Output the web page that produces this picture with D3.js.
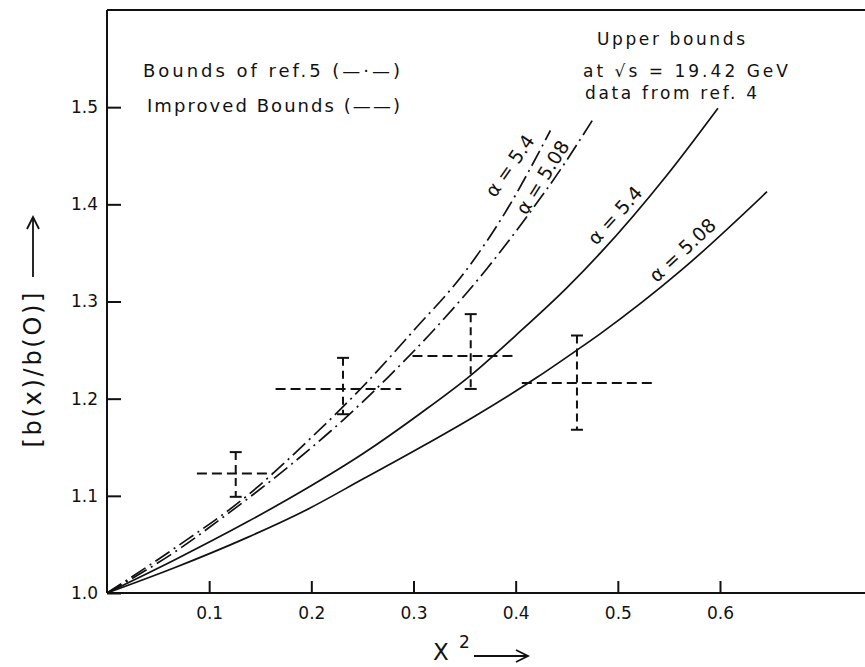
<!DOCTYPE html>
<html>
<head>
<meta charset="utf-8">
<script src="https://cdn.jsdelivr.net/npm/d3@7"></script>
<style>
  body { margin: 0; background: #fff; }
  text { font-family: "DejaVu Sans", sans-serif; fill: #111; }
</style>
</head>
<body>
<div id="container"></div>
<script>
const w = 865;
const h = 667;

// tick values
let xTicks = [0.1, 0.2, 0.3, 0.4, 0.5, 0.6];
let yTicks = [1.0, 1.1, 1.2, 1.3, 1.4, 1.5];

// bounds of ref.5 (dash-dot) as [x^2, b(x)/b(0)]
let refA54 = [[0, 1], [0.066, 1.046], [0.137, 1.100], [0.2, 1.160], [0.25, 1.212],
  [0.3, 1.270], [0.35, 1.330], [0.39, 1.392], [0.434, 1.476]];
let refA508 = [[0, 1], [0.066, 1.042], [0.12, 1.083], [0.18, 1.132], [0.23, 1.177],
  [0.275, 1.222], [0.321, 1.272], [0.372, 1.334], [0.41, 1.386], [0.444, 1.436], [0.476, 1.488]];

// improved bounds (solid)
let impA54 = [[0, 1], [0.066, 1.034], [0.137, 1.073], [0.196, 1.108], [0.25, 1.143],
  [0.307, 1.185], [0.356, 1.224], [0.40, 1.265], [0.45, 1.314], [0.483, 1.350],
  [0.548, 1.430], [0.598, 1.499]];
let impA508 = [[0, 1], [0.066, 1.026], [0.137, 1.057], [0.196, 1.086], [0.25, 1.117],
  [0.307, 1.150], [0.36, 1.182], [0.421, 1.222], [0.46, 1.250], [0.483, 1.267],
  [0.563, 1.333], [0.646, 1.413]];

// data from ref.4 with error bars
let ptX = [0.126, 0.231, 0.356, 0.460];
let ptY = [1.123, 1.210, 1.244, 1.216];
let ptXLo = [0.088, 0.165, 0.299, 0.406];
let ptXHi = [0.162, 0.288, 0.398, 0.534];
let ptYLo = [1.099, 1.184, 1.210, 1.168];
let ptYHi = [1.145, 1.242, 1.287, 1.265];

// curve labels: text, x^2, b, angle
let curveLabels = [
  ["α = 5.4", 0.394, 1.440, -55],
  ["α = 5.08", 0.426, 1.428, -58],
  ["α = 5.4", 0.497, 1.389, -48],
  ["α = 5.08", 0.563, 1.353, -43]
];

let xScale = d3.scaleLinear().domain([0, 0.6]).range([107, 720]);
let yScale = d3.scaleLinear().domain([1.0, 1.6]).range([593, 10]);

let viz = d3.select("#container").append("svg")
  .attr("width", w).attr("height", h)
  .style("background", "#fff");

// frame: left axis, bottom axis, top line
viz.append("line").attr("x1", xScale(0)).attr("x2", xScale(0))
  .attr("y1", yScale(1.6)).attr("y2", yScale(1.0))
  .attr("stroke", "#111").attr("stroke-width", 2);
viz.append("line").attr("x1", xScale(0)).attr("x2", w)
  .attr("y1", yScale(1.0)).attr("y2", yScale(1.0))
  .attr("stroke", "#111").attr("stroke-width", 2.2);
viz.append("line").attr("x1", xScale(0)).attr("x2", w)
  .attr("y1", yScale(1.6)).attr("y2", yScale(1.6))
  .attr("stroke", "#111").attr("stroke-width", 2.2);

let xAxis = d3.axisBottom(xScale).tickValues(xTicks).tickSize(-12).tickPadding(14)
  .tickFormat(d3.format(".1f"));
let xAxisGroup = viz.append("g").attr("class", "xaxis")
  .attr("transform", "translate(0," + yScale(1.0) + ")");
xAxisGroup.call(xAxis);

let yAxis = d3.axisLeft(yScale).tickValues(yTicks).tickSize(-14).tickPadding(9)
  .tickFormat(d3.format(".1f"));
let yAxisGroup = viz.append("g").attr("class", "yaxis")
  .attr("transform", "translate(" + xScale(0) + ",0)");
yAxisGroup.call(yAxis);

viz.selectAll(".xaxis .domain, .yaxis .domain").remove();
viz.selectAll(".xaxis line, .yaxis line").attr("stroke", "#111").attr("stroke-width", 2);
viz.selectAll(".xaxis text, .yaxis text")
  .attr("font-family", "DejaVu Sans").attr("font-size", 17).attr("fill", "#111");

// curves
let line = d3.line()
  .x(function(d){ return xScale(d[0]) })
  .y(function(d){ return yScale(d[1]) })
  .curve(d3.curveMonotoneX);

viz.selectAll(".refCurve").data([refA54, refA508]).enter()
  .append("path").attr("class", "refCurve")
  .attr("d", line)
  .attr("fill", "none").attr("stroke", "#111").attr("stroke-width", 1.7)
  .attr("stroke-dasharray", "17,5,2,5");

viz.selectAll(".impCurve").data([impA54, impA508]).enter()
  .append("path").attr("class", "impCurve")
  .attr("d", line)
  .attr("fill", "none").attr("stroke", "#111").attr("stroke-width", 1.7);

// error bars
let pts = ptX.map(function(x, i){
  return { x: x, y: ptY[i], xlo: ptXLo[i], xhi: ptXHi[i], ylo: ptYLo[i], yhi: ptYHi[i] };
});
let bars = viz.selectAll(".bar").data(pts).enter().append("g").attr("class", "bar");
bars.append("line")
  .attr("x1", function(d){ return xScale(d.xlo) })
  .attr("x2", function(d){ return xScale(d.xhi) })
  .attr("y1", function(d){ return yScale(d.y) })
  .attr("y2", function(d){ return yScale(d.y) })
  .attr("stroke", "#111").attr("stroke-width", 2).attr("stroke-dasharray", "10,5");
bars.append("line")
  .attr("x1", function(d){ return xScale(d.x) })
  .attr("x2", function(d){ return xScale(d.x) })
  .attr("y1", function(d){ return yScale(d.yhi) })
  .attr("y2", function(d){ return yScale(d.ylo) })
  .attr("stroke", "#111").attr("stroke-width", 2).attr("stroke-dasharray", "8,5");
["yhi", "ylo"].forEach(function(k){
  bars.append("line")
    .attr("x1", function(d){ return xScale(d.x) - 6 })
    .attr("x2", function(d){ return xScale(d.x) + 6 })
    .attr("y1", function(d){ return yScale(d[k]) })
    .attr("y2", function(d){ return yScale(d[k]) })
    .attr("stroke", "#111").attr("stroke-width", 2);
});

// curve labels
viz.selectAll(".clabel").data(curveLabels).enter()
  .append("text").attr("class", "clabel")
  .attr("transform", function(d){
    return "translate(" + xScale(d[1]) + "," + yScale(d[2]) + ") rotate(" + d[3] + ")";
  })
  .attr("text-anchor", "middle").attr("dominant-baseline", "central")
  .attr("font-size", 19)
  .text(function(d){ return d[0] });

// legend and notes
function note(txt, x, y, len, size){
  viz.append("text").attr("x", x).attr("y", y)
    .attr("font-size", size)
    .attr("textLength", len).attr("lengthAdjust", "spacing")
    .text(txt);
}
note("Bounds of ref.5 (—·—)", 143, 77, 257, 18);
note("Improved Bounds (——)", 147, 112, 253, 18);
note("Upper bounds", 597, 45, 148, 17);
note("at √s = 19.42 GeV", 583, 77, 205, 17);
note("data from ref. 4", 585, 99, 172, 17);

// axis titles
viz.append("text")
  .attr("transform", "translate(33,370) rotate(-90)")
  .attr("text-anchor", "middle").attr("dominant-baseline", "central")
  .attr("font-size", 24).attr("textLength", 155).attr("lengthAdjust", "spacing")
  .text("[b(x)/b(O)]");
viz.append("line").attr("x1", 33).attr("x2", 33).attr("y1", 277).attr("y2", 218)
  .attr("stroke", "#111").attr("stroke-width", 1.8);
viz.append("path").attr("d", "M27,229 L33,217 L39,229")
  .attr("fill", "none").attr("stroke", "#111").attr("stroke-width", 1.8);

let xt = viz.append("text").attr("x", 433).attr("y", 660).attr("font-size", 23);
xt.append("tspan").text("X");
xt.append("tspan").attr("x", 459).attr("y", 648).attr("font-size", 17).text("2");
viz.append("line").attr("x1", 474).attr("x2", 527).attr("y1", 656).attr("y2", 656)
  .attr("stroke", "#111").attr("stroke-width", 1.8);
viz.append("path").attr("d", "M516,650 L528,656 L516,662")
  .attr("fill", "none").attr("stroke", "#111").attr("stroke-width", 1.8);
</script>
</body>
</html>
